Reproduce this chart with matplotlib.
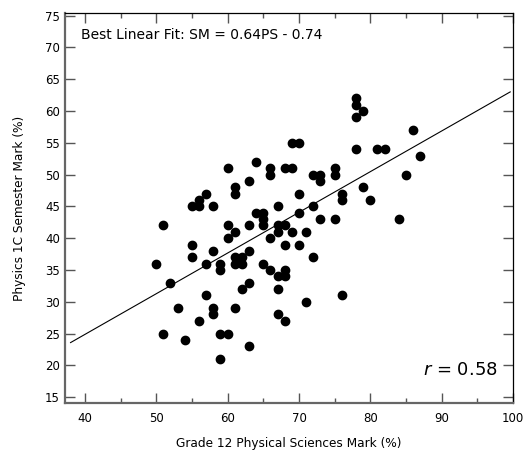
import numpy as np
import matplotlib.pyplot as plt
from matplotlib.ticker import MultipleLocator

# Grade 12 Physical Sciences mark (PS) vs Physics 1C semester mark (SM)
ps_mark = [78, 78, 79, 78, 86, 69, 70, 78, 81, 82, 87, 64,
           60, 66, 68, 69, 75, 66, 75, 72, 73, 85,
           63, 73, 61, 79, 61, 57, 70, 76, 56, 76, 80,
           55, 56, 58, 67, 72, 64, 65, 70, 65, 73, 75, 84,
           51, 60, 63, 65, 67, 68, 61, 67, 69, 71, 60, 66,
           55, 68, 70, 58, 63, 55, 61, 62, 72,
           50, 57, 59, 61, 62, 65, 59, 66, 68, 67, 68,
           52, 63, 62, 67, 57, 76, 71, 53, 58, 61, 58, 67,
           56, 68, 51, 59, 60, 54, 63, 59]
sm_mark = [62, 61, 60, 59, 57, 55, 55, 54, 54, 54, 53, 52,
           51, 51, 51, 51, 51, 50, 50, 50, 50, 50,
           49, 49, 48, 48, 47, 47, 47, 47, 46, 46, 46,
           45, 45, 45, 45, 45, 44, 44, 44, 43, 43, 43, 43,
           42, 42, 42, 42, 42, 42, 41, 41, 41, 41, 40, 40,
           39, 39, 39, 38, 38, 37, 37, 37, 37,
           36, 36, 36, 36, 36, 36, 35, 35, 35, 34, 34,
           33, 33, 32, 32, 31, 31, 30, 29, 29, 29, 28, 28,
           27, 27, 25, 25, 25, 24, 23, 21]

slope = 0.64
intercept = -0.74
fit_range = [38, 99.6]
r_value = 0.58

fig = plt.figure(figsize=(5.23, 4.51), dpi=100)
ax = fig.add_axes([0.124, 0.106, 0.857, 0.865])

ax.scatter(ps_mark, sm_mark, s=36, color='black', zorder=3)
fx = np.array(fit_range)
ax.plot(fx, slope * fx + intercept, color='black', linewidth=0.8)

ax.set_xlim(37.2, 100)
ax.set_ylim(14.05, 75.4)
ax.xaxis.set_major_locator(MultipleLocator(10))
ax.xaxis.set_minor_locator(MultipleLocator(5))
ax.yaxis.set_major_locator(MultipleLocator(5))

ax.tick_params(which='both', direction='in', top=True, right=True,
               color='#555555', labelsize=8.5)
ax.tick_params(which='major', length=7, width=1)
ax.tick_params(which='minor', length=3.5, width=1)
ax.tick_params(axis='x', pad=6)

for side in ['left', 'bottom']:
    ax.spines[side].set_color('#666666')
    ax.spines[side].set_linewidth(1.6)
for side in ['top', 'right']:
    ax.spines[side].set_color('black')
    ax.spines[side].set_linewidth(0.9)

ax.set_xlabel('Grade 12 Physical Sciences Mark (%)', fontsize=8.7, labelpad=9)
ax.set_ylabel('Physics 1C Semester Mark (%)', fontsize=8.7, labelpad=14)

ax.text(0.035, 0.945, f'Best Linear Fit: SM = {slope}PS - {abs(intercept)}',
        transform=ax.transAxes, fontsize=10, va='center', ha='left')
ax.text(0.965, 0.085, f'$r$ = {r_value}', transform=ax.transAxes,
        fontsize=13, va='center', ha='right')

fig.savefig('out.png', dpi=100)
